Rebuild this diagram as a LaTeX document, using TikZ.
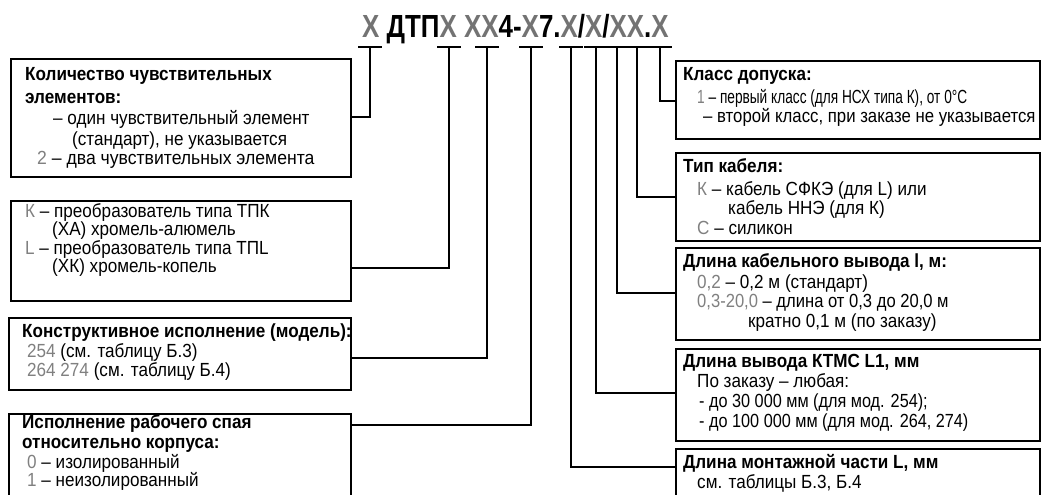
\documentclass[tikz,border=0pt]{standalone}
\usepackage{fontspec}
\setmainfont{Liberation Sans}[FakeStretch=0.9]
\newfontfamily\titlefont{Liberation Sans}[FakeStretch=0.81]
\definecolor{codegray}{gray}{0.45}
\definecolor{valgray}{gray}{0.5}
\newcommand{\gv}[1]{\textcolor{valgray}{#1}}
\newcommand{\gx}[1]{\textcolor{codegray}{#1}}
\begin{document}
\begin{tikzpicture}[x=1pt,y=-1pt,
  box/.style={draw=black,line width=2pt,anchor=north west,inner sep=0pt},
  conn/.style={draw=black,line width=2pt},
  tbar/.style={draw=black,line width=2pt},
  txt/.style={anchor=base west,inner sep=0pt,font=\fontsize{19}{20}\selectfont},
  hd/.style={txt,font=\fontsize{19}{20}\selectfont\bfseries}]
\useasboundingbox (0,0) rectangle (1041,495);
\clip (0,0) rectangle (1041,495);
% title
\node[anchor=base west,inner sep=0pt,font=\titlefont\fontsize{32}{36}\selectfont\bfseries] (title) at (362,38)
 {\gx{Х} ДТП\gx{Х} \gx{ХХ}4-\gx{Х}7.\gx{Х}/\gx{Х}/\gx{ХХ}.\gx{Х}};
% marks
\foreach \n/\x in {m1/370,m2/449,m3/487,m4/531,m5/571,m6/596,m7/617,m8/637,m9/660}{
  \coordinate (\n) at (\x,47);
  \draw[tbar] ([xshift=-12pt]\n) -- ([xshift=12pt]\n);
}
% left boxes
\node[box,minimum width=340pt,minimum height=118pt] (b1) at (10,58) {};
\node[box,minimum width=340pt,minimum height=100pt] (b2) at (10,200) {};
\node[box,minimum width=342pt,minimum height=72pt] (b3) at (8,317) {};
\node[box,minimum width=342pt,minimum height=100pt] (b4) at (8,413) {};
% right boxes
\node[box,minimum width=364pt,minimum height=78pt] (r1) at (675,60) {};
\node[box,minimum width=364pt,minimum height=88pt] (r2) at (675,152) {};
\node[box,minimum width=364pt,minimum height=92pt] (r3) at (675,247) {};
\node[box,minimum width=364pt,minimum height=92pt] (r4) at (675,348) {};
\node[box,minimum width=364pt,minimum height=80pt] (r5) at (675,448) {};
% connector levels
\coordinate (y1) at (0,117);
\coordinate (y2) at (0,268);
\coordinate (y3) at (0,358);
\coordinate (y4) at (0,425);
\coordinate (z1) at (0,101);
\coordinate (z2) at (0,197);
\coordinate (z3) at (0,293);
\coordinate (z4) at (0,393);
\coordinate (z5) at (0,467);
\draw[conn] (m1) |- (b1.east |- y1);
\draw[conn] (m2) |- (b2.east |- y2);
\draw[conn] (m3) |- (b3.east |- y3);
\draw[conn] (m4) |- (b4.east |- y4);
\draw[conn] (m9) |- (r1.west |- z1);
\draw[conn] (m8) |- (r2.west |- z2);
\draw[conn] (m7) |- (r3.west |- z3);
\draw[conn] (m6) |- (r4.west |- z4);
\draw[conn] (m5) |- (r5.west |- z5);
% box 1 text
\node[hd] (b1a) at (25,81) {Количество чувствительных};
\node[hd] (b1b) at (25,103) {элементов:};
\node[txt] (b1c) at (53,124) {– один чувствительный элемент};
\node[txt] (b1d) at (72,145) {(стандарт), не указывается};
\node[txt] (b1e) at (37,164) {\scalebox{1.03}[1]{\gv{2} – два чувствительных элемента}};
% box 2 text
\node[txt] (b2a) at (25,217) {\gv{К} – преобразователь типа ТПК};
\node[txt] (b2b) at (52,235) {(ХА) хромель-алюмель};
\node[txt] (b2c) at (25,254) {\gv{L} – преобразователь типа ТПL};
\node[txt] (b2d) at (52,272) {(ХК) хромель-копель};
% box 3 text
\node[hd] (b3a) at (22,337) {Конструктивное исполнение (модель):};
\node[txt] (b3b) at (27,357) {\gv{254} (см. таблицу Б.3)};
\node[txt] (b3c) at (27,376) {\gv{264 274} (см. таблицу Б.4)};
% box 4 text
\node[hd] (b4a) at (22,428) {Исполнение рабочего спая};
\node[hd] (b4b) at (22,448) {относительно корпуса:};
\node[txt] (b4c) at (27,468) {\gv{0} – изолированный};
\node[txt] (b4d) at (27,486) {\gv{1} – неизолированный};
% r1 text
\node[hd] (r1a) at (683,81) {Класс допуска:};
\node[txt] (r1b) at (697,103) {\scalebox{0.8}[1]{\gv{1} – первый класс (для НСХ типа К), от 0°С}};
\node[txt] (r1c) at (703,122) {\scalebox{0.98}[1]{– второй класс, при заказе не указывается}};
% r2 text
\node[hd] (r2a) at (683,172) {Тип кабеля:};
\node[txt] (r2b) at (697,195) {\gv{К} – кабель СФКЭ (для L) или};
\node[txt] (r2c) at (728,214) {кабель ННЭ (для К)};
\node[txt] (r2d) at (697,234) {\gv{С} – силикон};
% r3 text
\node[hd] (r3a) at (683,267) {Длина кабельного вывода l, м:};
\node[txt] (r3b) at (697,288) {\gv{0,2} – 0,2 м (стандарт)};
\node[txt] (r3c) at (697,307) {\scalebox{0.97}[1]{\gv{0,3-20,0} – длина от 0,3 до 20,0 м}};
\node[txt] (r3d) at (748,327) {кратно 0,1 м (по заказу)};
% r4 text
\node[hd] (r4a) at (683,367) {Длина вывода КТМС L1, мм};
\node[txt] (r4b) at (697,387) {По заказу – любая:};
\node[txt] (r4c) at (699,407) {\scalebox{0.95}[1]{- до 30 000 мм (для мод. 254);}};
\node[txt] (r4d) at (699,427) {\scalebox{0.95}[1]{- до 100 000 мм (для мод. 264, 274)}};
% r5 text
\node[hd] (r5a) at (683,468) {Длина монтажной части L, мм};
\node[txt] (r5b) at (697,488) {см. таблицы Б.3, Б.4};
\end{tikzpicture}
\end{document}
